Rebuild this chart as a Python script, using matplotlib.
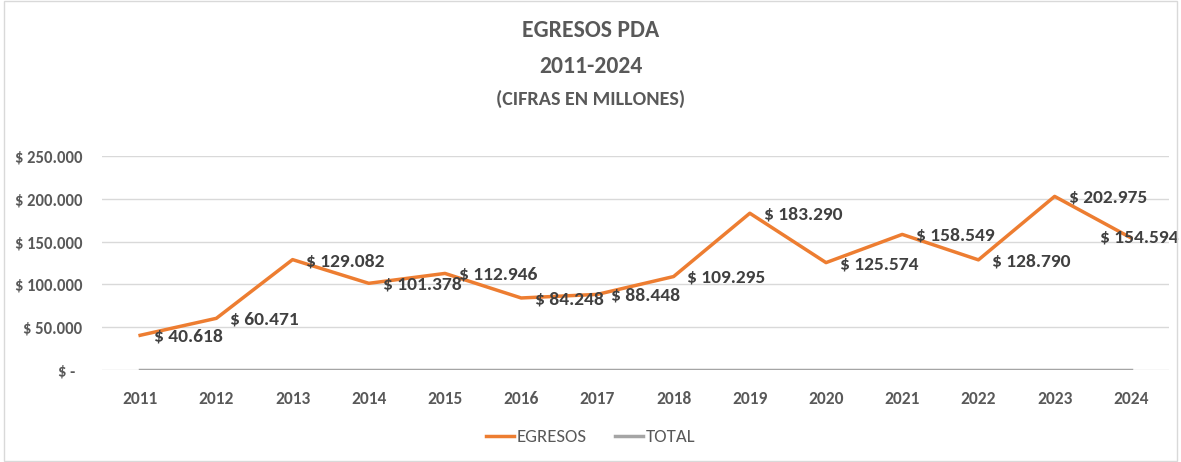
import matplotlib
matplotlib.use("Agg")
import matplotlib.pyplot as plt
from matplotlib.patches import Rectangle
from matplotlib.ticker import FuncFormatter

years = ["2011", "2012", "2013", "2014", "2015", "2016", "2017",
         "2018", "2019", "2020", "2021", "2022", "2023", "2024"]
egresos = [40618, 60471, 129082, 101378, 112946, 84248, 88448,
           109295, 183290, 125574, 158549, 128790, 202975, 154594]
total = [0] * len(years)
yticks = [0, 50000, 100000, 150000, 200000, 250000]

FAM = ["Carlito", "DejaVu Sans"]
plt.rcParams['font.family'] = FAM
TXT = "#595959"

fig = plt.figure(figsize=(11.81, 4.62), dpi=100)
fig.patches.append(Rectangle((0.003, 0.003), 0.994, 0.994, transform=fig.transFigure,
                             fill=False, edgecolor="#D9D9D9", linewidth=1))
ax = fig.add_axes([0.0864, 0.199, 0.9034, 0.463])

x = list(range(len(years)))
ax.plot(x, total, color="#A5A5A5", linewidth=2.5, label="TOTAL", zorder=2)
ax.plot(x, egresos, color="#ED7D31", linewidth=2.5, label="EGRESOS", zorder=3)

for i, v in enumerate(egresos):
    s = "$ " + f"{v:,}".replace(",", ".")
    if i == len(years) - 1:
        ax.annotate(s, (i, v), xytext=(34, 0), textcoords="offset points",
                    ha="right", va="center", fontsize=14, fontweight="bold",
                    color="#404040", annotation_clip=False)
    else:
        ax.annotate(s, (i, v), xytext=(10, -1), textcoords="offset points",
                    ha="left", va="center", fontsize=14, fontweight="bold",
                    color="#404040", annotation_clip=False)

ax.set_xlim(-0.5, len(years) - 0.5)
ax.set_ylim(0, 250000)
ax.set_yticks(yticks)
ax.yaxis.set_major_formatter(FuncFormatter(
    lambda v, p: "$ -  " if v == 0 else "$ " + f"{int(v):,}".replace(",", ".")))
ax.set_xticks(x)
ax.set_xticklabels(years)
ax.grid(axis="y", color="#D9D9D9", linewidth=1)
ax.set_axisbelow(True)
for sp in ax.spines.values():
    sp.set_visible(False)
ax.tick_params(length=0)
ax.tick_params(axis="y", pad=14, labelsize=12, labelcolor=TXT)
ax.tick_params(axis="x", pad=15, labelsize=12.5, labelcolor=TXT)
for lab in ax.get_xticklabels() + ax.get_yticklabels():
    lab.set_fontweight("bold")

fig.text(0.5, 0.935, "EGRESOS PDA", ha="center", va="center",
         fontsize=17, fontweight="bold", color=TXT)
fig.text(0.5, 0.855, "2011-2024", ha="center", va="center",
         fontsize=17, fontweight="bold", color=TXT)
fig.text(0.5, 0.786, "(CIFRAS EN MILLONES)", ha="center", va="center",
         fontsize=14.5, fontweight="bold", color=TXT)

h, l = ax.get_legend_handles_labels()
fig.legend([h[1], h[0]], [l[1], l[0]], loc="center", bbox_to_anchor=(0.5, 0.054),
           ncol=2, frameon=False, fontsize=13.5, labelcolor=TXT,
           handlelength=1.5, handletextpad=0.15, columnspacing=1.5)

fig.savefig("out.png", dpi=100)
